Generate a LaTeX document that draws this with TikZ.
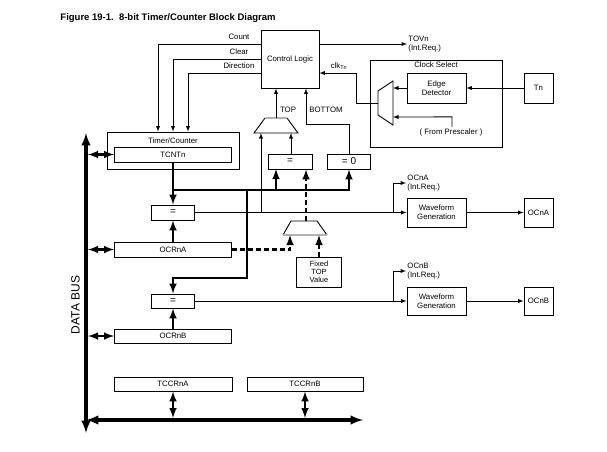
\documentclass[tikz,border=0pt]{standalone}
\usepackage{fontspec}
\setmainfont{Liberation Sans}
\usetikzlibrary{arrows}
\usetikzlibrary{calc}

\tikzset{
  box/.style={draw, inner sep=0pt, align=center},
  cmpbox/.style={box, font=\fontsize{10}{11}\selectfont},
  lbl/.style={inner sep=1pt, align=left},
  wide/.style={line width=2.4pt},
  bus/.style={line width=3.2pt},
  wdash/.style={line width=2.4pt, dash pattern=on 5pt off 3pt},
  muxedge/.style={gray!60, line width=1.6pt}
}

\begin{document}
\begin{tikzpicture}[x=1pt, y=-1pt, line width=0.9pt, >=latex, font=\fontsize{7.8}{8.8}\selectfont]
    \useasboundingbox (0,0) rectangle (607,451);

    \node[anchor=west, inner sep=0pt, font=\bfseries\fontsize{9.5}{11}\selectfont] (title) at (60,18) {Figure 19-1.\ \ 8-bit Timer/Counter Block Diagram};

    % blocks
    \node[box, minimum width=58pt, minimum height=58pt] (ctrl) at (290,59) {Control Logic};
    \node[box, minimum width=132pt, minimum height=37pt] (tc) at (173,150.5) {};
    \node[lbl] (tclbl) at (173,141) {Timer/Counter};
    \node[box, minimum width=117pt, minimum height=15pt] (tcnt) at (173,154.5) {TCNTn};
    \node[cmpbox, minimum width=43pt, minimum height=15pt] (cmpa) at (173,212.5) {=};
    \node[box, minimum width=117pt, minimum height=15pt] (ocra) at (173,249.5) {OCRnA};
    \node[cmpbox, minimum width=43pt, minimum height=14pt] (cmpb) at (173,301) {=};
    \node[box, minimum width=117pt, minimum height=14pt] (ocrb) at (173,336) {OCRnB};
    \node[box, minimum width=118pt, minimum height=14pt] (tccra) at (173,384) {TCCRnA};
    \node[box, minimum width=116pt, minimum height=14pt] (tccrb) at (305,384) {TCCRnB};
    \node[cmpbox, minimum width=44pt, minimum height=15pt] (cmptop) at (290,161.5) {=};
    \node[cmpbox, minimum width=43pt, minimum height=15pt] (cmpbot) at (349,161.5) {= 0};
    \node[box, minimum width=45pt, minimum height=30pt, font=\fontsize{7.5}{8}\selectfont] (fixtop) at (319,272) {Fixed\\TOP\\Value};
    \node[box, minimum width=132pt, minimum height=87pt] (clksel) at (436,103.5) {};
    \node[lbl] (clksellbl) at (436,65) {Clock Select};
    \node[box, minimum width=59pt, minimum height=30pt] (edge) at (436.5,88) {Edge\\Detector};
    \node[box, minimum width=29pt, minimum height=30pt] (tn) at (538.5,88) {Tn};
    \node[box, minimum width=59pt, minimum height=29pt] (wga) at (436.5,212.5) {Waveform\\Generation};
    \node[box, minimum width=29pt, minimum height=29pt] (oca) at (538.5,212.5) {OCnA};
    \node[box, minimum width=59pt, minimum height=28pt] (wgb) at (436.5,301) {Waveform\\Generation};
    \node[box, minimum width=29pt, minimum height=28pt] (ocb) at (538.5,301) {OCnB};

    % labels
    \node[lbl] (countlbl) at (239,37) {Count};
    \node[lbl] (clearlbl) at (239,52) {Clear};
    \node[lbl] (dirlbl) at (239,66) {Direction};
    \node[lbl, anchor=west] (tovn) at (407,44) {TOVn\\(Int.Req.)};
    \node[lbl] (clk) at (339,66) {clk\textsubscript{Tn}};
    \node[lbl] (toplbl) at (288,110) {TOP};
    \node[lbl] (botlbl) at (326,110) {BOTTOM};
    \node[lbl] (presc) at (451,132) {( From Prescaler )};
    \node[lbl, anchor=west] (ocia) at (406,183) {OCnA\\(Int.Req.)};
    \node[lbl, anchor=west] (ocib) at (406,271) {OCnB\\(Int.Req.)};
    \node[rotate=90, inner sep=0pt, font=\fontsize{12}{14}\selectfont] (dbus) at (75.5,305) {DATA BUS};

    % multiplexers
    \coordinate (topmux) at (276,118);
    \coordinate (topmuxl) at (261,133);
    \coordinate (topmuxr) at (291,133);
    \draw (265,118) -- (254,133) -- (298,133) -- (287,118);
    \draw[muxedge] (265,118) -- (287,118);

    \coordinate (lowmux) at (306,221);
    \coordinate (lowmuxl) at (290,235);
    \coordinate (lowmuxr) at (319,235);
    \draw (283,235) -- (291,221) -- (317,221) -- (327,235);
    \draw[muxedge] (283,235) -- (327,235);

    \coordinate (cmuxout) at (378,103);
    \coordinate (cmuxa) at (393,88);
    \coordinate (cmuxb) at (393,117);
    \draw (393,81) -- (378,91) -- (378,115) -- (393,125) -- cycle;

    % control logic
    \draw[->] ([yshift=15pt]ctrl.west) -| ([xshift=-15pt]tc.north);
    \draw[->] (ctrl.west) -| (tc.north);
    \draw[->] ([yshift=-14pt]ctrl.west) -| ([xshift=15pt]tc.north);
    \draw[->] ([yshift=15pt]ctrl.east) -- (tovn.west |- 0,44);
    \draw[->] (cmuxout) -- (356,103) |- ([yshift=-14pt]ctrl.east);
    \draw[->] (topmux) -- (topmux |- ctrl.south);
    \draw[->] (cmpbot.north) -- ++(0,-29) -| ([xshift=16pt]ctrl.south);

    % clock select
    \draw[->] (tn.west) -- (edge.east);
    \draw[->] (edge.west) -- (cmuxa);
    \draw[->] (presc.north -| 452,0) -- ++(0,-10) -- (cmuxb);

    % counter value bus
    \coordinate (cnt) at (173,190);
    \draw[wide,->] (tcnt.south) -- (cmpa.north);
    \draw[wide,->] (cnt) -| (cmpbot.south);
    \draw[wide,->] (276,190) -- (276,169);
    \draw[wide,->] (247,190) -- (247,278) -| (cmpb.north);
    \draw[wide,->] (ocra.north) -- (cmpa.south);
    \draw[wide,->] (ocrb.north) -- (cmpb.south);

    % TOP selection
    \draw[wdash,->] (ocra.east) -| (lowmuxl);
    \draw[wdash,->] (fixtop.north) -- (lowmuxr);
    \draw[wdash,->] (lowmux) -- (lowmux |- cmptop.south);
    \draw[->] (cmptop.north -| topmuxr) -- (topmuxr);
    \draw[->] (261,212.5) -- (topmuxl);

    % compare outputs
    \draw[->] (cmpa.east) -- (wga.west);
    \draw[->] (393,212.5) |- (ocia.west);
    \draw[->] (wga.east) -- (oca.west);
    \draw[->] (cmpb.east) -- (wgb.west);
    \draw[->] (393,301) |- (ocib.west);
    \draw[->] (wgb.east) -- (ocb.west);

    % data bus
    \coordinate (dbr) at (88,0);
    \coordinate (hb) at (0,418);
    \draw[bus, latex-latex] (86,133) -- (86,433);
    \draw[bus, latex-latex] (86,420) -- (363,420);
    \draw[wide, latex-latex] (tcnt.west -| dbr) -- (tcnt.west);
    \draw[wide, latex-latex] (ocra.west -| dbr) -- (ocra.west);
    \draw[wide, latex-latex] (ocrb.west -| dbr) -- (ocrb.west);
    \draw[wide, latex-latex] (tccra.south) -- (tccra.south |- hb);
    \draw[wide, latex-latex] (tccrb.south) -- (tccrb.south |- hb);
\end{tikzpicture}
\end{document}
